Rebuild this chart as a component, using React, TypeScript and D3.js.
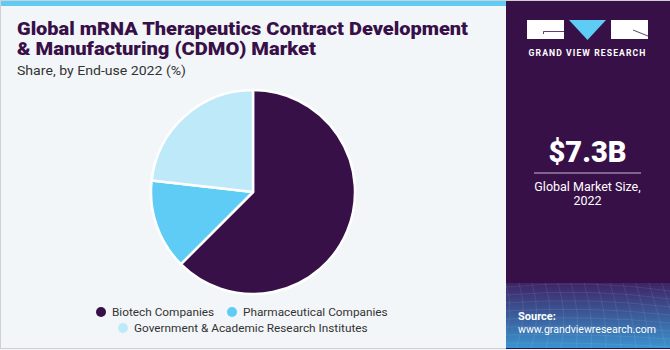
import React from "react";
import * as d3 from "d3";

const categories = ["Biotech Companies", "Pharmaceutical Companies", "Government & Academic Research Institutes"];
const shares = [62.5, 14.3, 23.2];
const colors = ["#381048", "#5ECCF5", "#BEE9F9"];
const titleLines = ["Global mRNA Therapeutics Contract Development", "& Manufacturing (CDMO) Market"];
const titleWidths = [451, 299];
const subtitle = "Share, by End-use 2022 (%)";
const marketSize = "$7.3B";
const marketLabel = ["Global Market Size,", "2022"];

export default function App() {
  const W = 670, H = 350;
  const cx = 253, cy = 192, r = 102;
  const pie = d3.pie<number>().sort(null).value((d) => d);
  const arcs = pie(shares);
  const arc = d3.arc<d3.PieArcDatum<number>>().innerRadius(0).outerRadius(r);
  const font = "Roboto, 'Liberation Sans', Arial, sans-serif";

  const gridLines: any[] = [];
  for (let i = 0; i < 14; i++) {
    const x = 506 + i * 13;
    gridLines.push(<path key={"v" + i} d={`M${x},283 Q${x + 10},315 ${x - 5 + i * 2},348`} stroke="#fff" strokeOpacity={0.12} fill="none" strokeWidth={0.7} />);
  }
  for (let j = 0; j < 8; j++) {
    const y = 287 + j * 8;
    gridLines.push(<path key={"h" + j} d={`M506,${y} Q590,${y - 8 + j} 670,${y + 4}`} stroke="#fff" strokeOpacity={0.12} fill="none" strokeWidth={0.7} />);
  }

  return (
    <svg width={W} height={H} style={{ position: "absolute", left: 0, top: 0 }}>
      <defs>
        <linearGradient id="srcGrad" x1="0" y1="0" x2="0" y2="1">
          <stop offset="0" stopColor="#3e2466" />
          <stop offset="0.5" stopColor="#3b5c9a" />
          <stop offset="1" stopColor="#3a93cf" />
        </linearGradient>
      </defs>
      <rect x={0} y={0} width={W} height={H} fill="#F3F6F9" />
      <rect x={0.5} y={0.5} width={W - 1} height={H - 2} fill="none" stroke="#cfcfd4" />
      <rect x={1} y={1} width={505} height={5} fill="#5ECCF5" />
      <rect x={506} y={1} width={164} height={348} fill="#381048" />
      <rect x={506} y={283} width={164} height={65} fill="url(#srcGrad)" />
      {gridLines}

      <text x={587.5} y={56} textAnchor="middle" fill="#fff" fontFamily={font} fontWeight={700} fontSize={8.6} letterSpacing={1.1}>GRAND VIEW RESEARCH</text>

      <text x={587.5} y={162} textAnchor="middle" fill="#fff" fontFamily={font} fontWeight={900} fontSize={29}>{marketSize}</text>
      <line x1={534} x2={641} y1={173} y2={173} stroke="#c9b6d6" strokeWidth={1} />
      {marketLabel.map((t, i) => (
        <text key={i} x={587.5} y={191 + i * 14} textAnchor="middle" fill="#fff" fontFamily={font} fontSize={12.5}>{t}</text>
      ))}

      <text x={518} y={320} fill="#fff" fontFamily={font} fontWeight={700} fontSize={11}>Source:</text>
      <text x={518} y={333} fill="#fff" fontFamily={font} fontSize={11} textLength={138} lengthAdjust="spacingAndGlyphs">www.grandviewresearch.com</text>

      {titleLines.map((t, i) => (
        <text key={i} x={17} y={35 + i * 20} fill="#381048" fontFamily={font} fontWeight={900} fontSize={18.5} textLength={titleWidths[i]} lengthAdjust="spacingAndGlyphs">{t}</text>
      ))}
      <text x={17} y={75} fill="#333" fontFamily={font} fontSize={13} textLength={169} lengthAdjust="spacingAndGlyphs">{subtitle}</text>

      <g transform={`translate(${cx},${cy})`}>
        {arcs.map((a, i) => (
          <path key={i} d={arc(a) || ""} fill={colors[i]} stroke="#fff" strokeWidth={2.5} strokeLinejoin="round" />
        ))}
      </g>

      {[
        { i: 0, x: 101, y: 312 },
        { i: 1, x: 232, y: 312 },
        { i: 2, x: 123, y: 328 },
      ].map(({ i, x, y }) => (
        <g key={i}>
          <circle cx={x} cy={y} r={5} fill={colors[i]} />
          <text x={x + 11} y={y + 4.3} fill="#333" fontFamily={font} fontSize={11.8}>{categories[i]}</text>
        </g>
      ))}

      {/* Logo */}
      <rect x={527} y={20} width={37} height={19} fill="white" />
      <path d="M543.5,34 L543.5,31.5 L564,31.5" stroke="#381048" strokeWidth={0.8} fill="none" />
      <path d="M569,20 L606,20 L587.5,40 Z" fill="#5ECCF5" />
      <rect x={611} y={20} width={37} height={19} fill="white" />
      <path d="M633,30 L648,36" stroke="#381048" strokeWidth={0.8} fill="none" />
    </svg>
  );
}
